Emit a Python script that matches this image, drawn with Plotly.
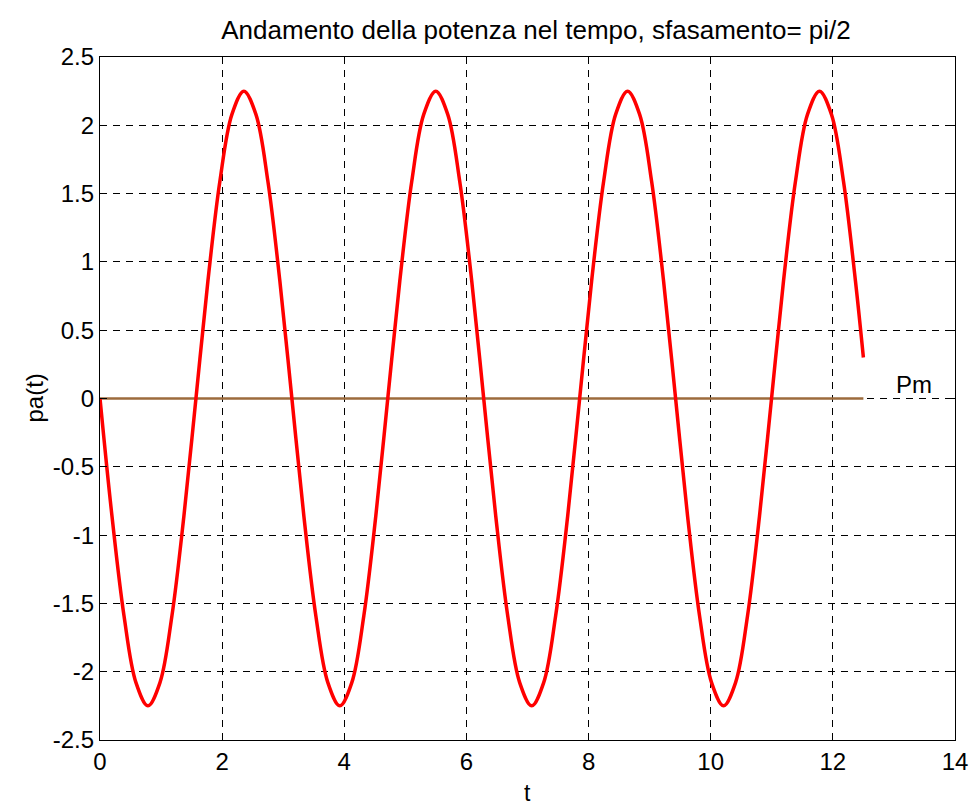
import plotly.graph_objects as go

# Instantaneous active power pa(t), sampled values
t = [0.000, 0.196, 0.393, 0.589, 0.785, 0.982, 1.178, 1.374,
     1.571, 1.767, 1.963, 2.160, 2.356, 2.553, 2.749, 2.945,
     3.142, 3.338, 3.534, 3.731, 3.927, 4.123, 4.320, 4.516,
     4.712, 4.909, 5.105, 5.301, 5.498, 5.694, 5.890, 6.087,
     6.283, 6.480, 6.676, 6.872, 7.069, 7.265, 7.461, 7.658,
     7.854, 8.050, 8.247, 8.443, 8.639, 8.836, 9.032, 9.228,
     9.425, 9.621, 9.817, 10.014, 10.210, 10.407, 10.603, 10.799,
     10.996, 11.192, 11.388, 11.585, 11.781, 11.977, 12.174, 12.370,
     12.500]
pa = [0.00, -0.86, -1.59, -2.08, -2.25, -2.08, -1.59, -0.86,
      0.00, 0.86, 1.59, 2.08, 2.25, 2.08, 1.59, 0.86,
      0.00, -0.86, -1.59, -2.08, -2.25, -2.08, -1.59, -0.86,
      0.00, 0.86, 1.59, 2.08, 2.25, 2.08, 1.59, 0.86,
      0.00, -0.86, -1.59, -2.08, -2.25, -2.08, -1.59, -0.86,
      0.00, 0.86, 1.59, 2.08, 2.25, 2.08, 1.59, 0.86,
      0.00, -0.86, -1.59, -2.08, -2.25, -2.08, -1.59, -0.86,
      0.00, 0.86, 1.59, 2.08, 2.25, 2.08, 1.59, 0.86,
      0.30]

# Mean power Pm
pm_t = [0.0, 12.5]
pm_val = [0.0, 0.0]

x_ticks = [0, 2, 4, 6, 8, 10, 12, 14]
y_ticks = [-2.5, -2, -1.5, -1, -0.5, 0, 0.5, 1, 1.5, 2, 2.5]
y_tick_text = ["-2.5", "-2", "-1.5", "-1", "-0.5", "0", "0.5", "1", "1.5", "2", "2.5"]

FONT = "Liberation Sans, Arial, sans-serif"
TICK_SIZE = 24

fig = go.Figure()
fig.add_trace(go.Scatter(x=pm_t, y=pm_val, mode="lines",
                         line=dict(color="#9C6B3C", width=2.5),
                         hoverinfo="skip", showlegend=False))
fig.add_trace(go.Scatter(x=t, y=pa, mode="lines",
                         line=dict(color="#FF0000", width=3.5, shape="spline", smoothing=1.0),
                         showlegend=False))

axis_common = dict(
    showline=True, linecolor="black", linewidth=1.3, mirror="ticks",
    ticks="inside", ticklen=7, tickcolor="black",
    showgrid=True, gridcolor="black", gridwidth=1, griddash="7px,6px",
    zeroline=False, ticklabeloverflow="allow",
    tickfont=dict(family=FONT, size=TICK_SIZE, color="black"),
)

fig.update_xaxes(range=[0, 14], tickvals=x_ticks, **axis_common)
fig.update_yaxes(range=[-2.5, 2.5], tickvals=y_ticks, ticktext=y_tick_text, **axis_common)

fig.add_annotation(x=13.0, y=0.1, xref="x", yref="y", text="Pm", showarrow=False,
                   xanchor="left", yanchor="middle",
                   font=dict(family=FONT, size=TICK_SIZE, color="black"))
fig.add_annotation(x=0.5, y=0, xref="paper", yref="paper", text="t", showarrow=False,
                   xanchor="center", yanchor="middle", yshift=-53,
                   font=dict(family=FONT, size=23, color="black"))
fig.add_annotation(x=0, y=0.5, xref="paper", yref="paper", text="pa(t)", showarrow=False,
                   xanchor="center", yanchor="middle", xshift=-66, textangle=-90,
                   font=dict(family=FONT, size=TICK_SIZE, color="black"))

fig.update_layout(
    width=980, height=807,
    margin=dict(l=100, r=13, t=57, b=67),
    paper_bgcolor="white", plot_bgcolor="white",
    title=dict(text="Andamento della potenza nel tempo, sfasamento= pi/2",
               x=(536 / 980), xanchor="center", y=1 - 30 / 807, yanchor="middle",
               font=dict(family=FONT, size=26, color="black")),
)

fig.write_html("out.html")
